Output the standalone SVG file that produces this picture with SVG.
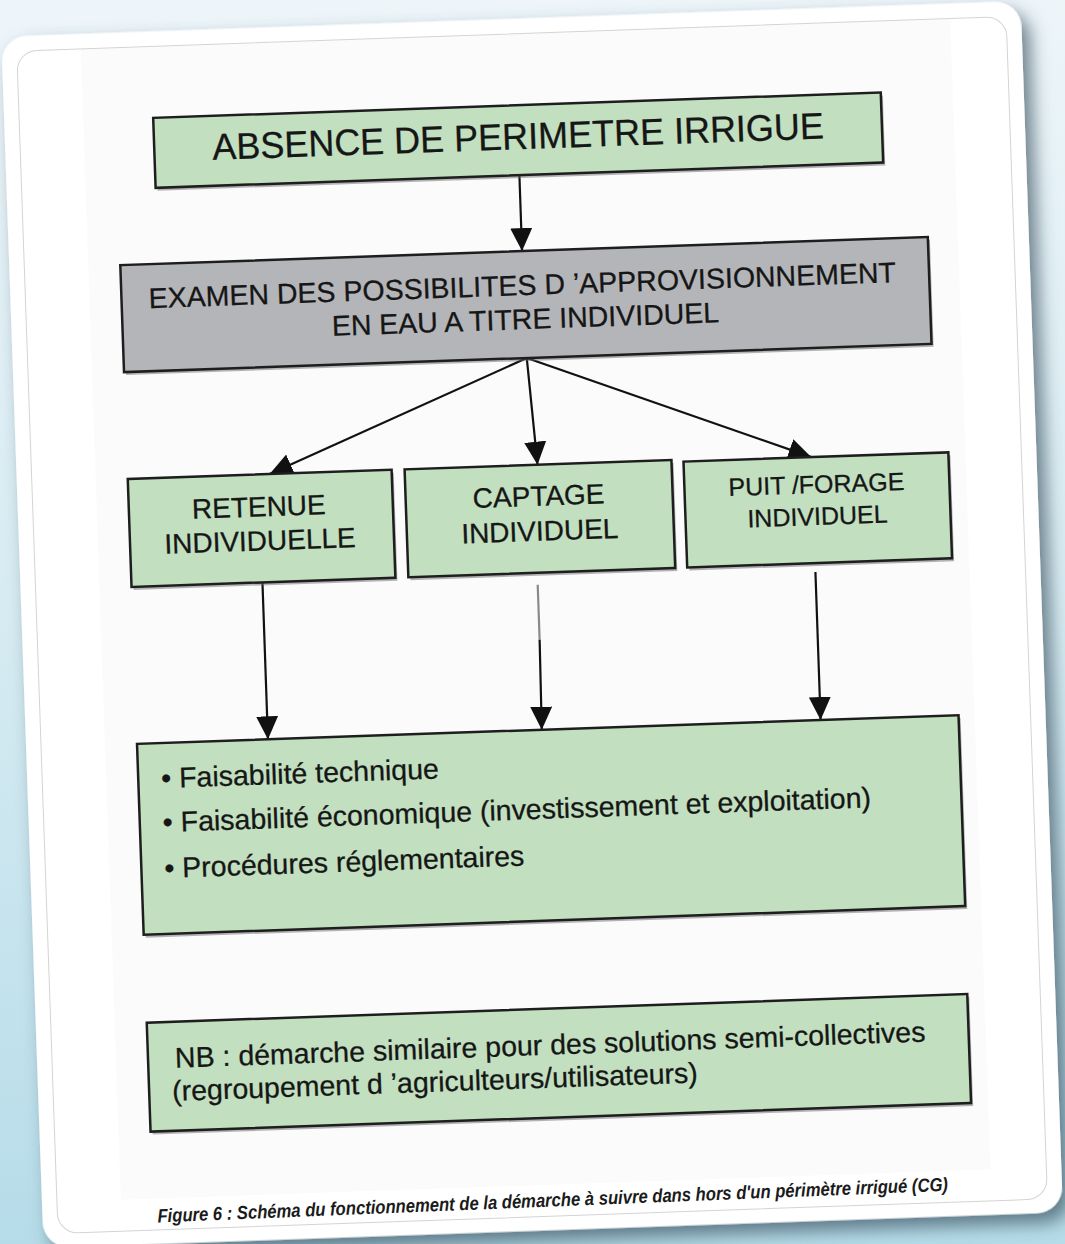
<svg xmlns="http://www.w3.org/2000/svg" width="1065" height="1244" viewBox="0 0 1065 1244">
<defs>
  <linearGradient id="bg" x1="0" y1="0" x2="0" y2="1">
    <stop offset="0" stop-color="#edf5f9"/>
    <stop offset="0.5" stop-color="#d6ebf2"/>
    <stop offset="1" stop-color="#b6dce9"/>
  </linearGradient>
  <filter id="cardShadow" x="-5%" y="-5%" width="115%" height="115%">
    <feDropShadow dx="8" dy="10" stdDeviation="9" flood-color="#37505e" flood-opacity="0.7"/>
  </filter>
  <marker id="ah" markerUnits="userSpaceOnUse" markerWidth="24" markerHeight="22" refX="23" refY="11" orient="auto">
    <path d="M0,0 L23,11 L0,22 Z" fill="#111"/>
  </marker>
</defs>
<style>
  .box{stroke:#1e1e1e;stroke-width:2.5}
  .green{fill:#c2e0c0}
  .gray{fill:#b4b5b9}
  .sh{fill:#6b6b6b;opacity:.5}
  .t{font-family:"Liberation Sans",Arial,sans-serif;fill:#161616;stroke:#161616;stroke-width:0.3}
  .c{text-anchor:middle}
  .conn{stroke:#111;stroke-width:2.2;fill:none}
  .cap{font-family:"Liberation Sans",Arial,sans-serif;font-weight:bold;font-style:italic;fill:#1b1b1b}
</style>
<rect x="0" y="0" width="1065" height="1244" fill="url(#bg)"/>
<g transform="rotate(-2 532 622)">
  <g id="card">
    <rect x="22" y="18.5" width="1020" height="1212" rx="26" fill="#ffffff" filter="url(#cardShadow)"/>
    <rect x="101" y="34" width="870" height="1151" fill="#fbfbfb"/>
    <rect x="37" y="33.5" width="990" height="1183" rx="20" fill="none" stroke="#d4d4d4" stroke-width="1"/>
  </g>
  <g id="connectors">
    <path class="conn" d="M535,175 L535,251" marker-end="url(#ah)"/>
    <path class="conn" d="M536,358 L275,465" marker-end="url(#ah)"/>
    <path class="conn" d="M536,358 L543,465" marker-end="url(#ah)"/>
    <path class="conn" d="M536,358 L817,467" marker-end="url(#ah)"/>
    <path class="conn" d="M264,573 L264,730" marker-end="url(#ah)"/>
    <path d="M539,585 L539,640" stroke="#8a8a8a" stroke-width="2.2" fill="none"/>
    <path class="conn" d="M539,640 L538,730" marker-end="url(#ah)"/>
    <path class="conn" d="M817,582 L817,730" marker-end="url(#ah)"/>
  </g>
  <g id="n-absence">
    <rect class="sh" x="173" y="108" width="728" height="70"/>
    <rect class="box green" x="171" y="105" width="728" height="70"/>
    <text class="t c" x="535" y="149" font-size="37" textLength="612" lengthAdjust="spacingAndGlyphs">ABSENCE DE PERIMETRE IRRIGUE</text>
  </g>
  <g id="n-examen">
    <rect class="sh" x="135" y="254" width="808" height="107"/>
    <rect class="box gray" x="133" y="251" width="808" height="107"/>
    <text class="t c" x="534" y="295" font-size="28.5">EXAMEN DES POSSIBILITES D ’APPROVISIONNEMENT</text>
    <text class="t c" x="536" y="329" font-size="28.5">EN EAU A TITRE INDIVIDUEL</text>
  </g>
  <g id="n-retenue">
    <rect class="sh" x="135" y="468" width="264" height="108"/>
    <rect class="box green" x="133" y="465" width="264" height="108"/>
    <text class="t c" x="263" y="507" font-size="28">RETENUE</text>
    <text class="t c" x="263" y="541" font-size="28">INDIVIDUELLE</text>
  </g>
  <g id="n-captage">
    <rect class="sh" x="412" y="468" width="267" height="108"/>
    <rect class="box green" x="410" y="465" width="267" height="108"/>
    <text class="t c" x="543" y="506" font-size="28">CAPTAGE</text>
    <text class="t c" x="543" y="541" font-size="28">INDIVIDUEL</text>
  </g>
  <g id="n-puit">
    <rect class="sh" x="691" y="470" width="265" height="106"/>
    <rect class="box green" x="689" y="467" width="265" height="106"/>
    <text class="t c" x="821" y="503" font-size="25">PUIT /FORAGE</text>
    <text class="t c" x="821" y="535" font-size="25">INDIVIDUEL</text>
  </g>
  <g id="n-faisabilite">
    <rect class="sh" x="135" y="733" width="822" height="191"/>
    <rect class="box green" x="133" y="730" width="822" height="191"/>
    <text class="t" x="156" y="775" font-size="28.5">• Faisabilité technique</text>
    <text class="t" x="156" y="819" font-size="28.5">• Faisabilité économique (investissement et exploitation)</text>
    <text class="t" x="156" y="865" font-size="28.5">• Procédures réglementaires</text>
  </g>
  <g id="n-nb">
    <rect class="sh" x="135" y="1012" width="821" height="109"/>
    <rect class="box green" x="133" y="1009" width="821" height="109"/>
    <text class="t" x="160" y="1055" font-size="28.5">NB : démarche similaire pour des solutions semi-collectives</text>
    <text class="t" x="156" y="1088" font-size="28.5">(regroupement d ’agriculteurs/utilisateurs)</text>
  </g>
  <g id="caption">
    <text class="cap" x="137" y="1209" font-size="19" textLength="791" lengthAdjust="spacingAndGlyphs" transform="rotate(-0.3 137 1209)">Figure 6 : Schéma du fonctionnement de la démarche à suivre dans hors d'un périmètre irrigué (CG)</text>
  </g>
</g>
</svg>
